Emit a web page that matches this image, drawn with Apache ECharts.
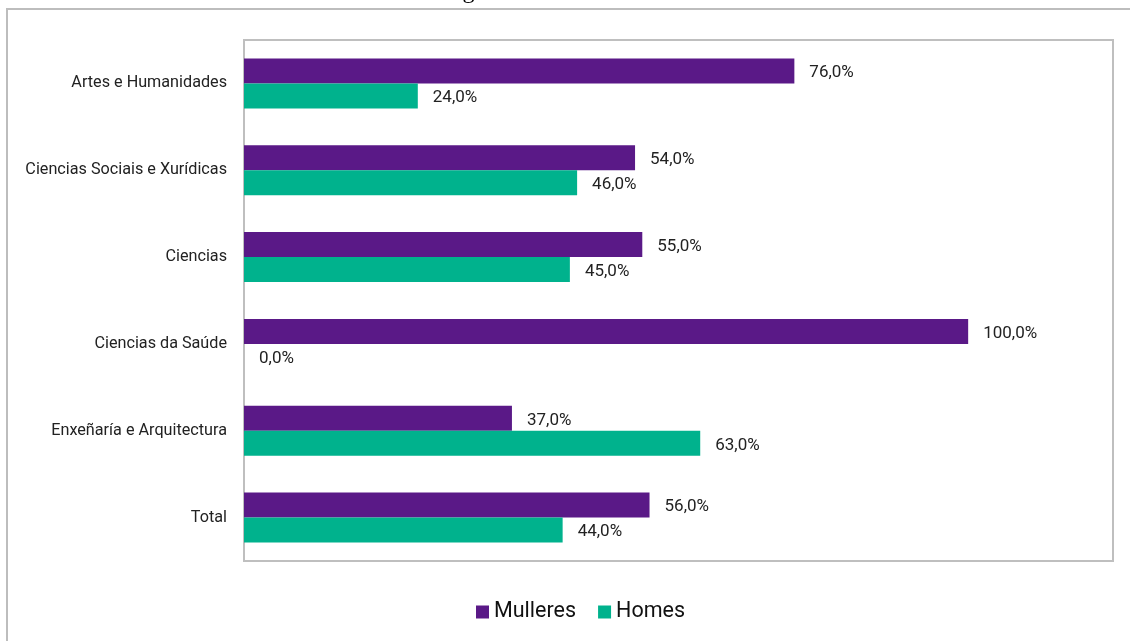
<!DOCTYPE html>
<html>
<head>
<meta charset="utf-8">
<script src="https://cdn.jsdelivr.net/npm/echarts@6/dist/echarts.min.js"></script>
<style>
  html, body { margin: 0; padding: 0; background: #ffffff; }
  #chart { width: 1130px; height: 641px; }
</style>
</head>
<body>
<div id="chart"></div>
<script>
// Areas of knowledge, top to bottom
const categories = [
  'Artes e Humanidades',
  'Ciencias Sociais e Xurídicas',
  'Ciencias',
  'Ciencias da Saúde',
  'Enxeñaría e Arquitectura',
  'Total'
];
// Share of theses (%) by sex
const mulleres = [76, 54, 55, 100, 37, 56];
const homes = [24, 46, 45, 0, 63, 44];
const seriesNames = ['Mulleres', 'Homes'];
const titleText = 'Gráfica 3. Porcentaxe de teses doutorais lidas segundo as áreas de coñecemento';

const chart = echarts.init(document.getElementById('chart'), null, { renderer: 'canvas' });

const pct = p => p.value.toFixed(1).replace('.', ',') + '%';
const labelStyle = {
  show: true,
  position: 'right',
  distance: 15,
  offset: [0, 2],
  formatter: pct,
  color: '#222222',
  fontFamily: 'Roboto',
  fontSize: 17
};

chart.setOption({
  animation: false,
  backgroundColor: '#ffffff',
  graphic: [
    {
      type: 'rect',
      shape: { x: 7, y: 9, width: 1200, height: 700 },
      style: { fill: 'none', stroke: '#bdbdbd', lineWidth: 2 },
      silent: true,
      z: -1
    },
    {
      type: 'text',
      style: {
        x: 0,
        y: 4,
        text: titleText,
        font: '24px "Liberation Serif"',
        fill: '#000000',
        verticalAlign: 'bottom'
      },
      silent: true
    }
  ],
  grid: {
    left: 244,
    top: 40,
    right: 17,
    bottom: 80,
    show: true,
    borderColor: '#bfbfbf',
    borderWidth: 2,
    backgroundColor: '#ffffff'
  },
  legend: {
    data: seriesNames,
    left: 471,
    top: 596,
    itemWidth: 13,
    itemHeight: 13,
    itemGap: 22,
    icon: 'rect',
    textStyle: { fontFamily: 'Roboto', fontSize: 21.5, color: '#111111' }
  },
  xAxis: {
    type: 'value',
    min: 0,
    max: 120,
    show: false
  },
  yAxis: {
    type: 'category',
    data: categories,
    inverse: true,
    axisLine: { show: false },
    axisTick: { show: false },
    axisLabel: {
      margin: 17,
      fontFamily: 'Roboto',
      fontSize: 16.2,
      color: '#222222'
    }
  },
  series: [
    {
      name: seriesNames[0],
      type: 'bar',
      data: mulleres,
      barWidth: 25,
      barGap: '0%',
      itemStyle: { color: '#5a1987' },
      label: labelStyle
    },
    {
      name: seriesNames[1],
      type: 'bar',
      data: homes,
      barWidth: 25,
      barGap: '0%',
      itemStyle: { color: '#00b28d' },
      label: labelStyle
    }
  ]
});
</script>
</body>
</html>
